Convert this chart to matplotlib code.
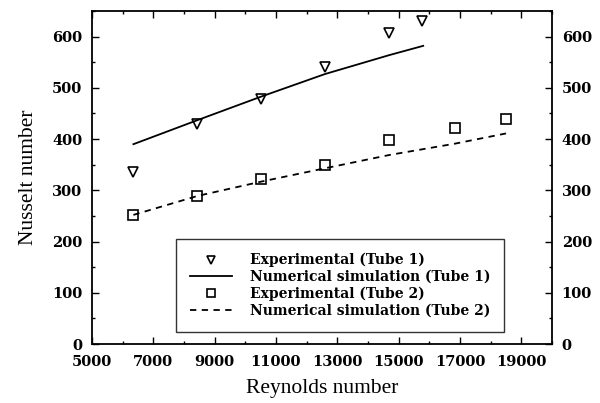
import matplotlib
matplotlib.use("Agg")
import matplotlib.pyplot as plt
from matplotlib.ticker import MultipleLocator

# Tube 1
re_exp1 = [6350, 8440, 10520, 12600, 14700, 15770]
nu_exp1 = [336, 430, 479, 541, 607, 631]
re_num1 = [6350, 8440, 10520, 12600, 14700, 15800]
nu_num1 = [390, 437, 483, 527, 564, 582]

# Tube 2
re_exp2 = [6350, 8440, 10520, 12600, 14700, 16830, 18500]
nu_exp2 = [252, 289, 322, 350, 398, 421, 439]
re_num2 = [6350, 8440, 10520, 12600, 14700, 16830, 18500]
nu_num2 = [252, 289, 317, 343, 369, 391, 411]

x_ticks = [5000, 7000, 9000, 11000, 13000, 15000, 17000, 19000]
y_ticks = [0, 100, 200, 300, 400, 500, 600]

plt.rcParams["font.family"] = ["DejaVu Serif"]

fig = plt.figure(figsize=(6.0, 4.03), dpi=100)
ax = fig.add_axes([92 / 600, 1 - 344 / 403, (552 - 92) / 600, (344 - 11) / 403])

ax.plot(re_exp1, nu_exp1, ls="none", marker="v", ms=6.5, mfc="white",
        mec="black", mew=1.2, label="Experimental (Tube 1)")
ax.plot(re_num1, nu_num1, color="black", lw=1.3,
        label="Numerical simulation (Tube 1)")
ax.plot(re_exp2, nu_exp2, ls="none", marker="s", ms=6.5, mfc="white",
        mec="black", mew=1.2, label="Experimental (Tube 2)")
ax.plot(re_num2, nu_num2, color="black", lw=1.3, ls=(0, (3.5, 3)),
        label="Numerical simulation (Tube 2)")

ax.set_xlim(5000, 20000)
ax.set_ylim(0, 650)
ax.set_xticks(x_ticks)
ax.set_yticks(y_ticks)
ax.xaxis.set_minor_locator(MultipleLocator(1000))
ax.yaxis.set_minor_locator(MultipleLocator(50))

ax.tick_params(which="both", direction="in", top=True, right=True,
               labelright=True, labelsize=10.5, width=1)
ax.tick_params(which="major", length=5)
ax.tick_params(which="minor", length=2.5)
ax.tick_params(axis="x", pad=8)
ax.tick_params(axis="y", pad=7)
for t in ax.xaxis.get_major_ticks() + ax.yaxis.get_major_ticks():
    t.label1.set_fontweight("bold")
    t.label2.set_fontweight("bold")

for s in ax.spines.values():
    s.set_linewidth(1.3)

ax.set_xlabel("Reynolds number", fontsize=15.5, labelpad=7,
              family="Liberation Serif")
ax.set_ylabel("Nusselt number", fontsize=15.5, labelpad=10,
              family="Liberation Serif")

leg = ax.legend(loc="lower left", fontsize=10, frameon=True,
                fancybox=False, edgecolor="black", handlelength=3.0,
                labelspacing=0.2, borderpad=1.0, handletextpad=1.3,
                borderaxespad=0, markerscale=0.8)
leg.set_bbox_to_anchor((176 / 600, 1 - 332 / 403), transform=fig.transFigure)
leg.get_frame().set_linewidth(1.0)
for t in leg.get_texts():
    t.set_fontweight("bold")

fig.savefig("out.png", dpi=100)
